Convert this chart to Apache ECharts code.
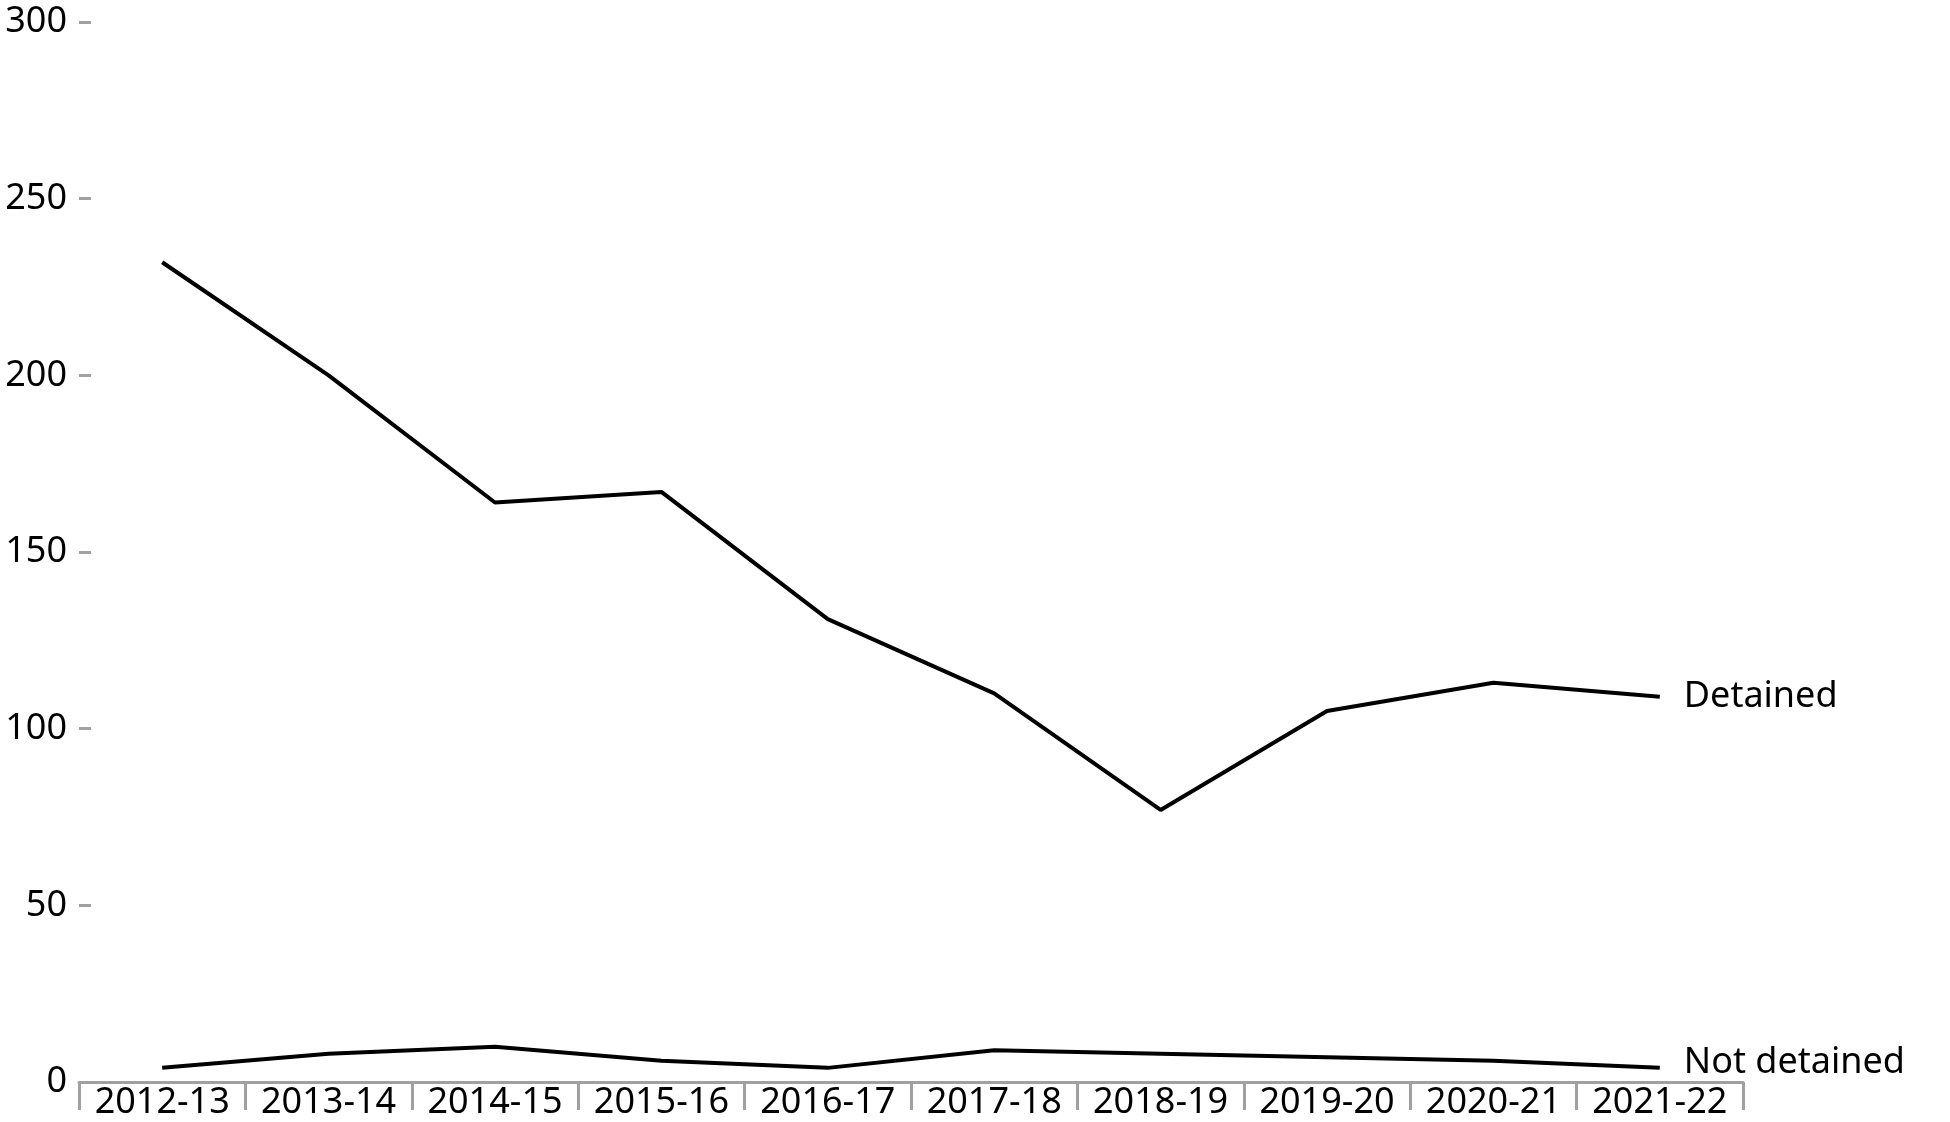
<!DOCTYPE html>
<html>
<head>
<meta charset="utf-8">
<script src="https://cdn.jsdelivr.net/npm/echarts@6/dist/echarts.min.js"></script>
<style>
html,body{margin:0;padding:0;background:#fff;}
#chart{width:1950px;height:1122px;}
</style>
</head>
<body>
<div id="chart"></div>
<script>
const categories = ['2012-13','2013-14','2014-15','2015-16','2016-17','2017-18','2018-19','2019-20','2020-21','2021-22'];
const detained = [232, 200, 164, 167, 131, 110, 77, 105, 113, 109];
const notDetained = [4, 8, 10, 6, 4, 9, 8, 7, 6, 4];
const yTicks = [0, 50, 100, 150, 200, 250, 300];

const FONT = 'Noto Sans';
const chart = echarts.init(document.getElementById('chart'), null, {renderer: 'canvas'});
chart.setOption({
  animation: false,
  backgroundColor: '#ffffff',
  grid: {left: 79, right: 207, top: 22, bottom: 40, containLabel: false},
  xAxis: {
    type: 'category',
    data: categories,
    boundaryGap: true,
    axisLine: {show: true, lineStyle: {color: '#a0a0a0', width: 3}},
    axisTick: {show: true, length: 28, lineStyle: {color: '#a0a0a0', width: 3}},
    axisLabel: {color: '#000', fontFamily: FONT, fontSize: 36, margin: 3, interval: 0},
    splitLine: {show: false}
  },
  yAxis: {
    type: 'value',
    min: yTicks[0],
    max: yTicks[yTicks.length - 1],
    interval: 50,
    axisLine: {show: false},
    axisTick: {show: true, inside: true, length: 12, lineStyle: {color: '#a0a0a0', width: 3}},
    axisLabel: {color: '#000', fontFamily: FONT, fontSize: 36, margin: 12},
    splitLine: {show: false}
  },
  series: [
    {
      name: 'Detained',
      type: 'line',
      data: detained,
      symbol: 'none',
      lineStyle: {color: '#000', width: 4},
      endLabel: {show: true, formatter: '{a}', color: '#000', fontFamily: FONT, fontSize: 36, distance: 24, offset: [0, 0]}
    },
    {
      name: 'Not detained',
      type: 'line',
      data: notDetained,
      symbol: 'none',
      lineStyle: {color: '#000', width: 4},
      endLabel: {show: true, formatter: '{a}', color: '#000', fontFamily: FONT, fontSize: 36, distance: 24, offset: [0, -5]}
    }
  ]
});
</script>
</body>
</html>
